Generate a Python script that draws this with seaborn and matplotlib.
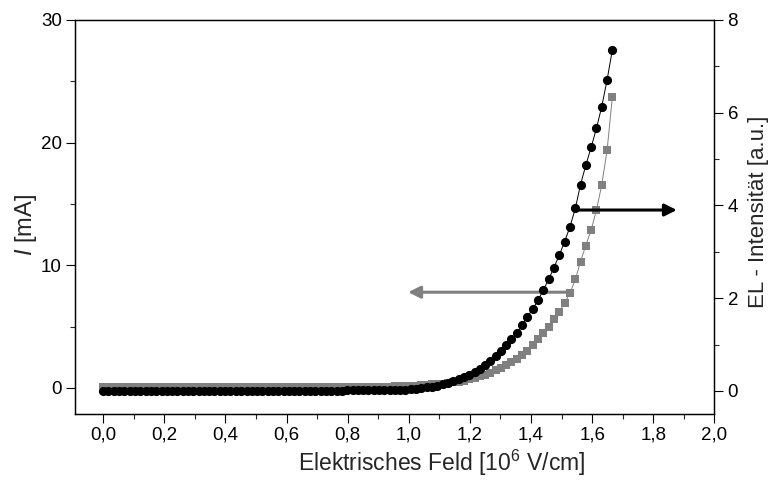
import numpy as np
import pandas as pd
import seaborn as sns
import matplotlib
matplotlib.use("Agg")
import matplotlib.pyplot as plt

# Elektrisches Feld [10^6 V/cm]
field = [0.000, 0.017, 0.035, 0.052, 0.069, 0.087, 0.104, 0.121, 0.139, 0.156,
         0.174, 0.191, 0.208, 0.226, 0.243, 0.260, 0.278, 0.295, 0.312, 0.330,
         0.347, 0.364, 0.382, 0.399, 0.416, 0.434, 0.451, 0.469, 0.486, 0.503,
         0.521, 0.538, 0.555, 0.573, 0.590, 0.607, 0.625, 0.642, 0.659, 0.677,
         0.694, 0.712, 0.729, 0.746, 0.764, 0.781, 0.798, 0.816, 0.833, 0.850,
         0.868, 0.885, 0.902, 0.920, 0.937, 0.954, 0.972, 0.989, 1.007, 1.024,
         1.041, 1.059, 1.076, 1.093, 1.111, 1.128, 1.145, 1.163, 1.180, 1.197,
         1.215, 1.232, 1.250, 1.267, 1.284, 1.302, 1.319, 1.336, 1.354, 1.371,
         1.388, 1.406, 1.423, 1.440, 1.458, 1.475, 1.492, 1.510, 1.527, 1.545,
         1.562, 1.579, 1.597, 1.614, 1.631, 1.649, 1.666]

# Strom I [mA] (graue Quadrate, linke Achse)
current = [0.06, 0.06, 0.06, 0.06, 0.06, 0.06, 0.06, 0.06, 0.06, 0.06,
           0.06, 0.06, 0.06, 0.06, 0.06, 0.06, 0.06, 0.06, 0.06, 0.06,
           0.06, 0.06, 0.06, 0.07, 0.07, 0.07, 0.08, 0.07, 0.07, 0.07,
           0.07, 0.07, 0.07, 0.08, 0.07, 0.07, 0.07, 0.07, 0.07, 0.07,
           0.08, 0.08, 0.08, 0.08, 0.08, 0.08, 0.08, 0.08, 0.08, 0.08,
           0.09, 0.09, 0.10, 0.10, 0.11, 0.12, 0.13, 0.15, 0.17, 0.19,
           0.22, 0.25, 0.28, 0.31, 0.35, 0.40, 0.45, 0.52, 0.60, 0.70,
           0.82, 0.95, 1.08, 1.24, 1.42, 1.62, 1.84, 2.08, 2.36, 2.66,
           3.02, 3.46, 3.95, 4.44, 4.98, 5.58, 6.20, 6.93, 7.70, 8.84,
           10.3, 11.6, 12.9, 14.5, 16.5, 19.4, 23.7]

# EL-Intensitaet [a.u.] (schwarze Kreise, rechte Achse)
el = [0.00, 0.00, 0.00, 0.00, 0.00, 0.00, 0.00, 0.00, 0.00, 0.00,
      0.00, 0.00, 0.00, 0.00, 0.00, 0.00, 0.00, 0.00, 0.00, 0.00,
      0.00, 0.00, 0.00, 0.00, 0.00, 0.00, 0.00, 0.00, 0.00, 0.00,
      0.00, 0.00, 0.00, 0.00, 0.00, 0.00, 0.00, 0.00, 0.00, 0.00,
      0.00, 0.00, 0.00, 0.00, 0.005, 0.005, 0.01, 0.01, 0.01, 0.012,
      0.014, 0.015, 0.017, 0.019, 0.021, 0.023, 0.025, 0.03, 0.037, 0.048,
      0.06, 0.075, 0.095, 0.115, 0.145, 0.18, 0.21, 0.25, 0.29, 0.35,
      0.41, 0.47, 0.55, 0.64, 0.75, 0.87, 0.99, 1.11, 1.25, 1.42,
      1.60, 1.77, 1.96, 2.17, 2.41, 2.66, 2.92, 3.22, 3.53, 3.94,
      4.45, 4.86, 5.26, 5.66, 6.12, 6.71, 7.35]

df = pd.DataFrame({"field": field, "current": current, "el": el})

sns.set_style("ticks")
plt.rcParams["font.family"] = ["Liberation Sans", "DejaVu Sans"]
plt.rcParams["mathtext.fontset"] = "custom"
plt.rcParams["mathtext.rm"] = "Liberation Sans"
plt.rcParams["mathtext.it"] = "Liberation Sans:italic"
plt.rcParams["mathtext.default"] = "regular"

fig = plt.figure(figsize=(7.74, 4.96), dpi=100)
ax1 = fig.add_axes([0.097, 0.166, 0.826, 0.794])
ax2 = ax1.twinx()

grey = "#808080"

sns.lineplot(data=df, x="field", y="current", ax=ax1, color=grey, linewidth=0.7,
             marker="s", markersize=6.3, markeredgewidth=0, markerfacecolor=grey)
sns.lineplot(data=df, x="field", y="el", ax=ax2, color="black", linewidth=0.7,
             marker="o", markersize=6.6, markeredgewidth=0, markerfacecolor="black")

# Pfeile zu den Achsen
ax2.annotate("", xy=(1.877, 3.9), xytext=(1.547, 3.9),
             arrowprops=dict(arrowstyle="-|>", color="black", lw=2.2,
                             mutation_scale=18, shrinkA=0, shrinkB=0))
ax1.annotate("", xy=(0.998, 7.8), xytext=(1.535, 7.8),
             arrowprops=dict(arrowstyle="-|>", color=grey, lw=2.2,
                             mutation_scale=18, shrinkA=0, shrinkB=0))

ax1.set_xlim(-0.092, 2.0)
ax1.set_ylim(-2.1, 30)
ax2.set_ylim(-0.49, 8)

ax1.set_xticks(np.arange(0, 2.01, 0.2))
ax1.set_xticks(np.arange(0.1, 2.0, 0.2), minor=True)
ax1.set_xticklabels([f"{v:.1f}".replace(".", ",") for v in np.arange(0, 2.01, 0.2)])
ax1.set_yticks([0, 10, 20, 30])
ax1.set_yticks([5, 15, 25], minor=True)
ax2.set_yticks([0, 2, 4, 6, 8])
ax2.set_yticks([1, 3, 5, 7], minor=True)

for ax in (ax1, ax2):
    ax.tick_params(which="major", direction="out", length=6.5, width=0.8,
                   labelsize=13.5, colors="black", pad=3)
    ax.tick_params(which="minor", direction="out", length=3.6, width=0.8)
    for s in ax.spines.values():
        s.set_visible(True)
        s.set_linewidth(0.9)
        s.set_color("black")

ax1.set_xlabel("Elektrisches Feld [10$^{6}$ V/cm]", fontsize=16.5)
ax1.set_ylabel("$\\mathit{I}$ [mA]", fontsize=17)
ax2.set_ylabel("EL - Intensität [a.u.]", fontsize=16)
ax1.xaxis.label.set_verticalalignment("center")
ax1.xaxis.set_label_coords(0.574, -0.124)
ax1.yaxis.set_label_coords(-0.057, 0.479)
ax2.yaxis.set_label_coords(1.053, 0.512)

fig.savefig("out.png", dpi=100)
